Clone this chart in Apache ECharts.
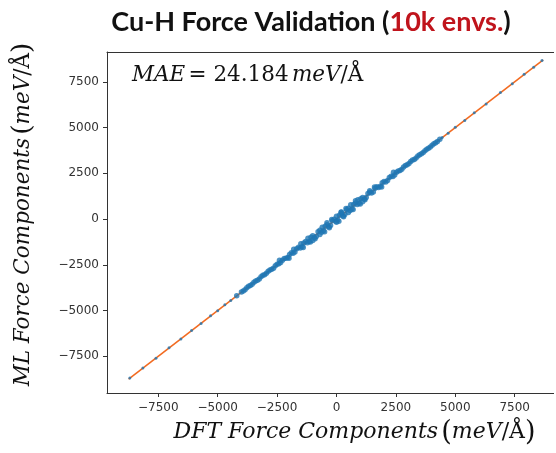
<!DOCTYPE html>
<html>
<head>
<meta charset="utf-8">
<script src="https://cdn.jsdelivr.net/npm/echarts@6/dist/echarts.min.js"></script>
<style>
  html, body { margin: 0; padding: 0; background: #fff; }
  #chart { width: 556px; height: 453px; }
</style>
</head>
<body>
<div id="chart"></div>
<script>
// tick values shared by both axes
const tickValues = [-7500, -5000, -2500, 0, 2500, 5000, 7500]

// DFT vs ML force components (meV/Å)
const dftForce = [
  -8700, -8150, -7600, -7050, -6550, -6100, -5700, -5300, -5000, -4700, -4450, -4200,
  -4000, -3850, -3700, -3550, -3400, -3250, -3100, -2950, -2800, -2650, -2500, -2350,
  -2200, -2050, -1900, -1750, -1600, -1450, -1300, -1150, -1000, -850, -700, -550,
  -400, -250, -100, 50, 200, 350, 500, 650, 800, 950, 1100, 1250, 1400, 1550, 1700,
  1850, 2000, 2150, 2300, 2450, 2600, 2750, 2900, 3050, 3200, 3350, 3500, 3650, 3800,
  3950, 4100, 4250,
  -3925, -3775, -3625, -3475, -3325, -3175, -3025, -2875, -2725, -2575, -2425, -2275,
  -2125, -1975, -1825, -1675, -1525, -1375, -1225, -1075, -925, -775, -625, -475,
  -325, -175, -25, 125, 275, 425, 575, 725, 875, 1025, 1175, 1325, 1475, 1625, 1775,
  1925, 2075, 2225, 2375, 2525, 2675, 2825, 2975, 3125, 3275, 3425, 3575, 3725, 3875,
  4025, 4175, 4350,
  -1200, -900, -600, -300, 0, 100, 400, 700, 900, 1200, -1500, -2000, 1600, 1900,
  -1800, 300, -500, 600, -1000, 1000, -200, 200,
  -1100, -700, -400, 0, 200, 500, 800, 1100, 1400, -1400, -2400, 2400,
  4450, 4700, 5000, 5400, 5800, 6300, 6900, 7400, 7900, 8300, 8650
]
const mlForce = [
  -8690, -8140, -7610, -7040, -6560, -6090, -5710, -5290, -5010, -4690, -4460, -4190,
  -3990, -3870, -3680, -3570, -3390, -3280, -3080, -2970, -2780, -2690, -2470, -2380,
  -2160, -2100, -1850, -1800, -1540, -1520, -1230, -1230, -920, -950, -620, -640,
  -310, -350, -10, -60, 290, 250, 590, 550, 880, 860, 1180, 1170, 1470, 1480, 1760,
  1790, 2050, 2100, 2340, 2410, 2630, 2720, 2920, 3030, 3220, 3330, 3510, 3640, 3810,
  3940, 4110, 4240,
  -3930, -3760, -3640, -3460, -3340, -3160, -3050, -2860, -2740, -2560, -2450, -2250,
  -2150, -1940, -1870, -1630, -1580, -1310, -1300, -1000, -1010, -700, -720, -390,
  -420, -90, -120, 210, 170, 510, 470, 800, 790, 1110, 1100, 1400, 1420, 1680, 1720,
  1980, 2030, 2270, 2330, 2550, 2650, 2850, 2960, 3140, 3260, 3440, 3570, 3730, 3870,
  4030, 4170, 4360,
  -1050, -1080, -450, -480, 150, -120, 580, 520, 1050, 1050, -1350, -2150, 1750, 1750,
  -1650, 120, -700, 780, -1180, 820, -30, 370,
  -1250, -850, -200, -180, 380, 350, 1000, 950, 1550, -1550, -2250, 2550,
  4460, 4690, 5010, 5390, 5810, 6290, 6910, 7390, 7910, 8290, 8660
]
// y = x reference line end points
const fitLine = [-8750, 8700]

const chart = echarts.init(document.getElementById('chart'))

const serif = 'DejaVu Serif'
const minusFmt = v => String(v).replace('-', '\u2212')
const makeRich = size => ({
  i: { fontFamily: serif, fontStyle: 'italic', fontSize: size, color: '#111' },
  n: { fontFamily: serif, fontSize: size, color: '#111' },
  p: { fontFamily: serif, fontSize: size + 5, color: '#111' }
})
const spine = { color: '#333', width: 1 }

chart.setOption({
  animation: false,
  title: {
    text: '{b|Cu-H Force Validation (}{r|10k envs.}{b|)}',
    left: 306,
    textAlign: 'center',
    top: 4,
    textStyle: {
      rich: {
        b: { fontFamily: 'Lato', fontWeight: 'bold', fontSize: 27, color: '#111' },
        r: { fontFamily: 'Lato', fontWeight: 'bold', fontSize: 27, color: '#c0141c' }
      }
    }
  },
  // the right spine sits just outside the picture, so the plot runs to the edge
  grid: {
    left: 107, top: 52, width: 449, height: 341,
    outerBoundsMode: 'none'
  },
  graphic: [{
    type: 'text',
    left: 132, top: 64,
    style: {
      text: '{i|MAE} {n|= 24.184} {i|meV}{n|/Å}',
      rich: {
        i: { fontFamily: serif, fontStyle: 'italic', fontSize: 21.5, fill: '#111' },
        n: { fontFamily: serif, fontSize: 21.5, fill: '#111' }
      }
    }
  }, {
    // hide the clipped right edge
    type: 'rect',
    right: 0, top: 48,
    z: 100,
    shape: { width: 2, height: 350 },
    style: { fill: '#fff' }
  }],
  xAxis: [{
    type: 'value',
    min: -9660, max: 9240,
    name: '{i|DFT Force Components} {p|(}{i|meV}{n|/Å}{p|)}',
    nameLocation: 'middle',
    nameGap: 26,
    nameTextStyle: { rich: makeRich(22), padding: [0, 0, 0, 46] },
    splitLine: { show: false },
    axisLine: { onZero: false, lineStyle: spine },
    axisTick: { show: true, length: 4, customValues: tickValues, lineStyle: spine },
    axisLabel: {
      customValues: tickValues, formatter: minusFmt, margin: 9,
      fontFamily: 'DejaVu Sans', fontSize: 12, color: '#333'
    }
  }, {
    type: 'value',
    position: 'top',
    min: -9660, max: 9240,
    splitLine: { show: false },
    axisLine: { show: true, onZero: false, lineStyle: spine },
    axisTick: { show: false },
    axisLabel: { show: false }
  }],
  yAxis: {
    type: 'value',
    min: -9510, max: 9130,
    name: '{i|ML Force Components} {p|(}{i|meV}{n|/Å}{p|)}',
    nameLocation: 'middle',
    nameGap: 70,
    nameTextStyle: { rich: makeRich(21.5), padding: [0, 0, 0, 16] },
    splitLine: { show: false },
    axisLine: { show: true, onZero: false, lineStyle: spine },
    axisTick: { show: true, length: 4, customValues: tickValues, lineStyle: spine },
    axisLabel: {
      customValues: tickValues, formatter: minusFmt, margin: 8,
      fontFamily: 'DejaVu Sans', fontSize: 12, color: '#333'
    }
  },
  series: [{
    type: 'line',
    data: fitLine.map(v => [v, v]),
    showSymbol: false,
    z: 2,
    lineStyle: { color: '#f26b21', width: 1.6 }
  }, {
    type: 'scatter',
    data: dftForce.map((x, i) => [x, mlForce[i]]),
    symbolSize: d => (Math.abs(d[0]) > 4400 ? 3 : 5.5),
    z: 3,
    itemStyle: { color: '#1f77b4' }
  }]
})
</script>
</body>
</html>
